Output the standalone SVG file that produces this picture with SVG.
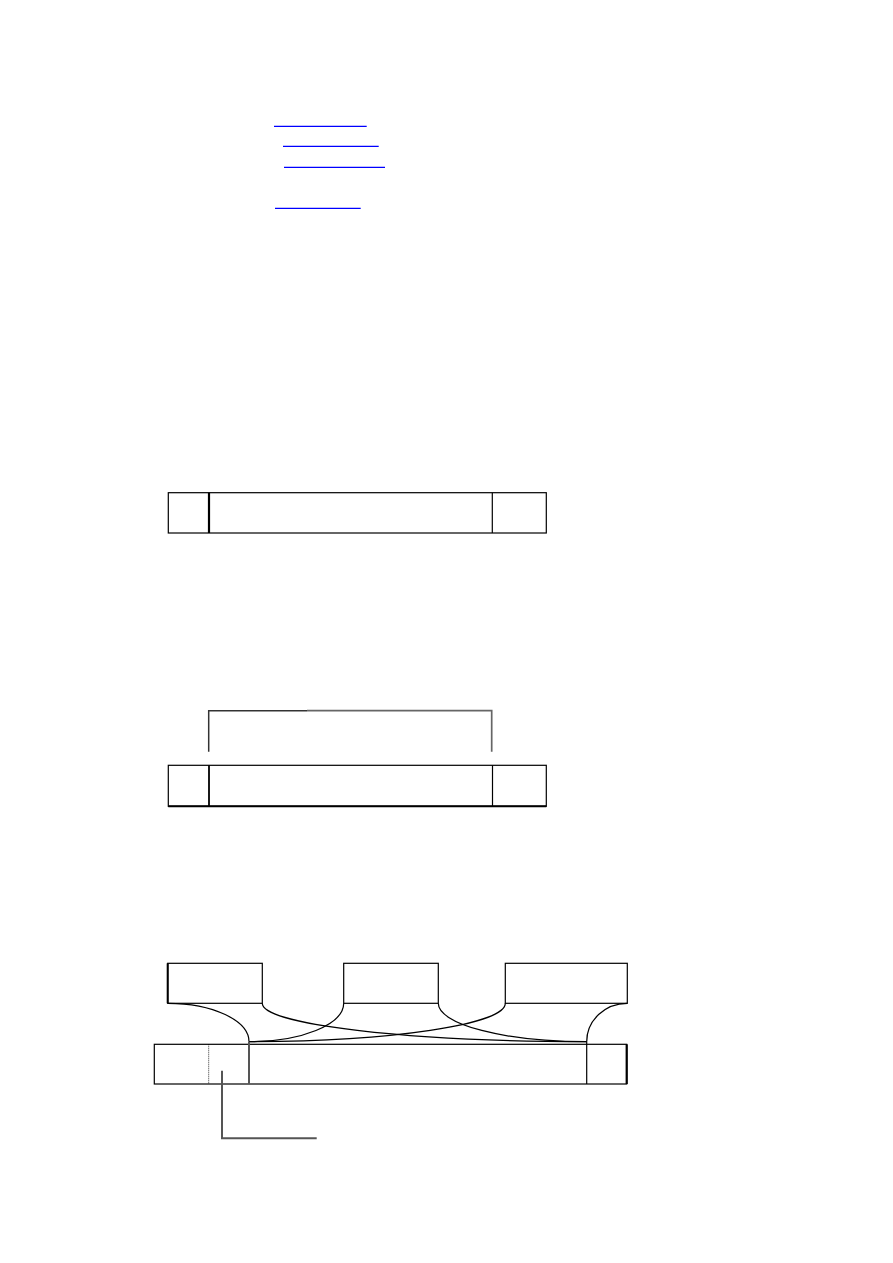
<svg xmlns="http://www.w3.org/2000/svg" width="893" height="1263" viewBox="0 0 893 1263">
<style>
.ln{fill:none;stroke:#000;stroke-width:1.2}
.bx{fill:#fff;stroke:#000;stroke-width:1.2}
.lk{stroke:#0000ff;stroke-width:1.3}
.gr{fill:none;stroke:#555;stroke-width:2}
</style>
<rect width="893" height="1263" fill="#fff"/>
<g id="links">
<line class="lk" x1="274" y1="126.3" x2="366.7" y2="126.3"/>
<line class="lk" x1="283" y1="146.3" x2="378.7" y2="146.3"/>
<line class="lk" x1="284" y1="167.3" x2="385" y2="167.3"/>
<line class="lk" x1="275" y1="208.3" x2="360.7" y2="208.3"/>
</g>
<g id="frame1">
<rect class="bx" x="168.3" y="492.7" width="378" height="40.3"/>
<line class="ln" x1="209" y1="492.7" x2="209" y2="533" style="stroke-width:2.2"/>
<line class="ln" x1="492.3" y1="492.7" x2="492.3" y2="533"/>
</g>
<g id="frame2">
<rect class="bx" x="168.3" y="765.3" width="378" height="41"/>
<line class="ln" x1="168.3" y1="806.3" x2="546.3" y2="806.3" style="stroke-width:2"/>
<line class="ln" x1="209" y1="765.3" x2="209" y2="806.3" style="stroke-width:1.8"/>
<line class="ln" x1="492.5" y1="765.3" x2="492.5" y2="806.3"/>
</g>
<g id="bracket">
<polyline points="208.7,751.7 208.7,710.7 307,710.7" fill="none" stroke="#333" stroke-width="1.5"/>
<polyline points="307,710.7 491.7,710.7 491.7,751.7" fill="none" stroke="#666" stroke-width="1.7"/>
</g>
<g id="boxA">
<rect class="bx" x="167.7" y="963.3" width="94.6" height="40"/>
<line class="ln" x1="167.7" y1="963.3" x2="167.7" y2="1003.3" style="stroke-width:2"/>
</g>
<g id="boxB">
<rect class="bx" x="343.7" y="963.3" width="94.6" height="40"/>
</g>
<g id="boxC">
<rect class="bx" x="505.3" y="963.3" width="122" height="40"/>
</g>
<g id="frame3">
<rect class="bx" x="154.3" y="1044.3" width="472.4" height="39.7"/>
<line class="ln" x1="626.7" y1="1044.3" x2="626.7" y2="1084" style="stroke-width:2.2"/>
<line x1="208.7" y1="1044.3" x2="208.7" y2="1084" stroke="#000" stroke-width="0.8" stroke-dasharray="1,1"/>
</g>
<g id="connectors">
<path class="ln" d="M167.7,1003.3 A81.3,38.4 0 0 1 249,1041.7"/>
<path class="ln" d="M343.7,1003.3 A94.7,38.4 0 0 1 249,1041.7"/>
<path class="ln" d="M505.3,1003.3 A256.3,38.4 0 0 1 249,1041.7"/>
<path class="ln" d="M262.3,1003.3 A324.4,38.4 0 0 0 586.7,1041.7"/>
<path class="ln" d="M438.3,1003.3 A148.4,38.4 0 0 0 586.7,1041.7"/>
<path class="ln" d="M627.3,1003.3 A40.6,38.4 0 0 0 586.7,1041.7"/>
<line class="gr" x1="249" y1="1041.7" x2="249" y2="1084"/>
<line class="ln" x1="586.7" y1="1041.7" x2="586.7" y2="1084"/>
<polyline class="gr" points="222,1070.7 222,1138.3 316.7,1138.3"/>
</g>
</svg>
